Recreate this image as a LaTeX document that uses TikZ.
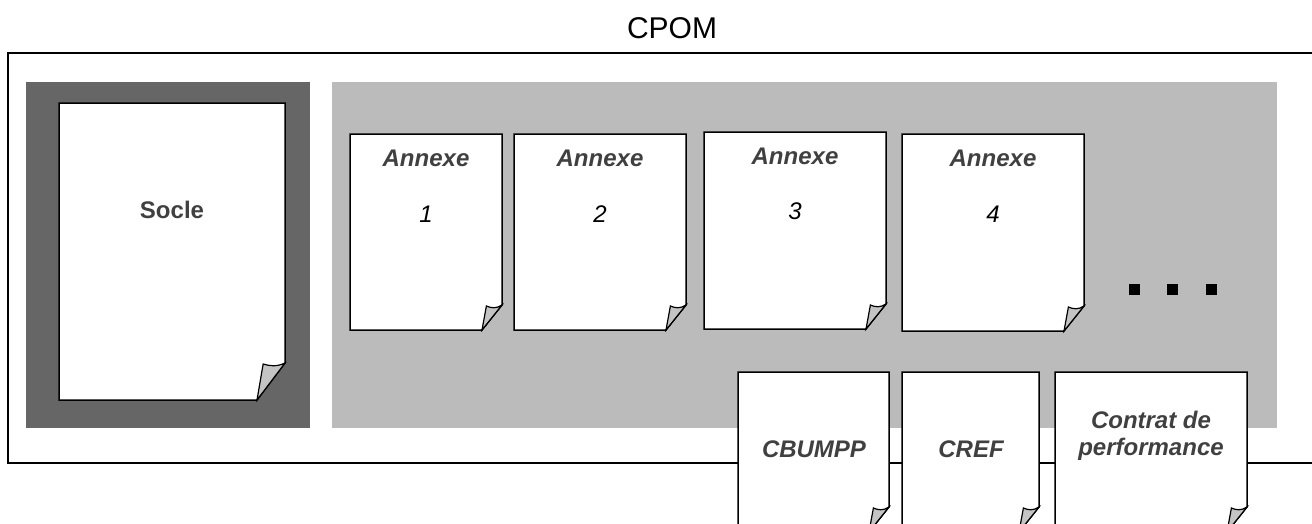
\documentclass[tikz,border=0pt]{standalone}
\usepackage{fontspec}
\setmainfont{Liberation Sans}
\definecolor{darkbox}{HTML}{666666}
\definecolor{lightbox}{HTML}{BBBBBB}
\definecolor{foldgray}{HTML}{C4C4C4}
\definecolor{txtgray}{HTML}{404040}
\tikzset{
  pageline/.style={draw=black, line width=1.5pt, line join=miter},
  frameline/.style={draw=black, line width=1.3pt},
  lbl/.style={inner sep=0pt, align=center, text=txtgray, font=\fontsize{24}{27}\selectfont\bfseries\itshape},
  uplbl/.style={inner sep=0pt, align=center, text=txtgray, font=\fontsize{24}{27}\selectfont\bfseries},
  numlbl/.style={inner sep=0pt, text=black, font=\fontsize{24}{27}\selectfont\itshape},
  dotsq/.style={fill=black, draw=none, minimum size=11pt, inner sep=0pt},
}
% x1, y1 (top), x2, y2 (bottom), fold width, fold height
\newcommand{\docpg}[6]{%
  \draw[pageline, fill=white] (#1,#2) -- (#3,#2) -- (#3,{#4-#6}) -- ({#3-#5},#4) -- (#1,#4) -- cycle;
  \draw[pageline, line width=1.2pt, fill=foldgray] (#3,{#4-#6})
    .. controls ({#3-0.3*#5},{#4-#6+4}) and ({#3-0.55*#5},{#4-#6+3}) .. ({#3-0.78*#5},{#4-#6+1})
    -- ({#3-#5},#4) -- cycle;
}
\begin{document}
\begin{tikzpicture}[x=1pt,y=-1pt]
\clip (0,0) rectangle (1312,523);
\fill[white] (0,0) rectangle (1312,523);
% outer frame
\draw[frameline] (8,53) rectangle (1330,463);
\node[inner sep=0pt, font=\fontsize{30}{33}\selectfont] (cpom) at (672,28) {CPOM};
% socle area
\fill[darkbox] (26,82) rectangle (310,428);
\docpg{59}{103}{285}{400}{28}{37}
\node[uplbl] (socle) at (172,210) {Socle};
% annex area
\fill[lightbox] (332,82) rectangle (1277,428);
\docpg{350}{134}{502}{330}{20}{25}
\docpg{514}{134}{686}{330}{20}{25}
\docpg{704}{132}{886}{329}{20}{25}
\docpg{902}{134}{1084}{331}{20}{25}
\node[lbl] (a1) at (426,158) {Annexe};
\node[numlbl] (n1) at (426,214) {1};
\node[lbl] (a2) at (600,158) {Annexe};
\node[numlbl] (n2) at (600,214) {2};
\node[lbl] (a3) at (795,156) {Annexe};
\node[numlbl] (n3) at (795,211) {3};
\node[lbl] (a4) at (993,158) {Annexe};
\node[numlbl] (n4) at (993,214) {4};
\node[dotsq] (d1) at (1134,289) {};
\node[dotsq] (d2) at (1172,289) {};
\node[dotsq] (d3) at (1211,289) {};
% bottom documents
\docpg{738}{372}{889}{532}{20}{25}
\docpg{902}{372}{1039}{532}{20}{25}
\docpg{1055}{372}{1247}{532}{20}{25}
\node[lbl] (cb) at (814,449) {CBUMPP};
\node[lbl] (cref) at (971,449) {CREF};
\node[lbl] (cp) at (1151,436) {Contrat de\\performance};
\end{tikzpicture}
\end{document}
